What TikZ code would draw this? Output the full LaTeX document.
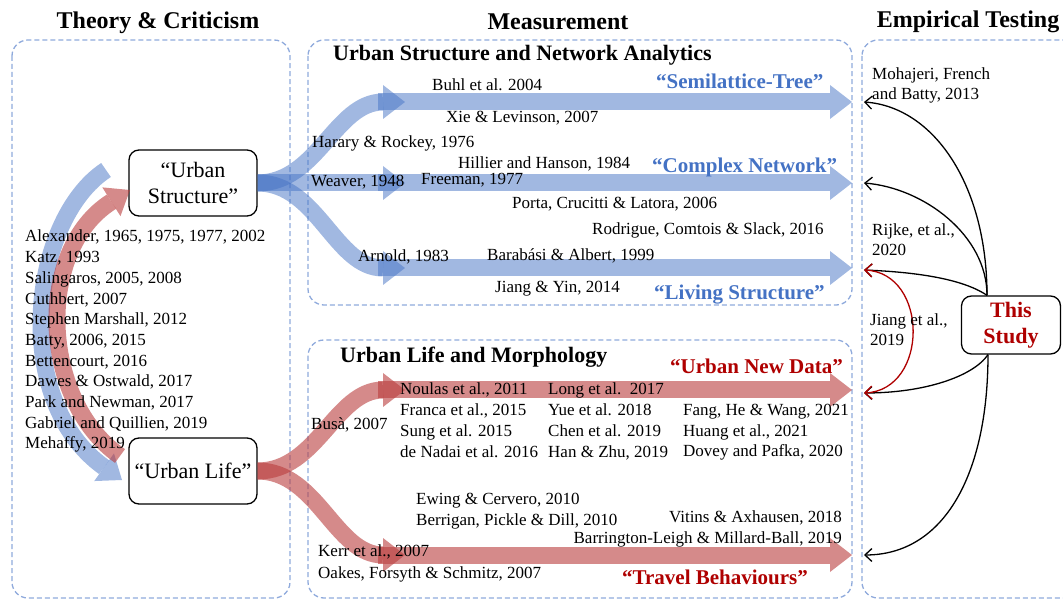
\documentclass[tikz,border=0pt]{standalone}
\usepackage{fontspec}
\setmainfont{Liberation Serif}
\usepackage{tikz}
\usetikzlibrary{positioning, arrows.meta}
\definecolor{panelblue}{RGB}{143,170,220}
\definecolor{flowblue}{RGB}{68,114,196}
\definecolor{flowred}{RGB}{185,60,60}
\definecolor{tagblue}{RGB}{68,114,196}
\definecolor{tagred}{RGB}{175,0,0}
\tikzset{
panel/.style={draw=panelblue, dash pattern=on 5pt off 3pt, line width=1.3pt, rounded corners=16pt}, % dashed frame round each part
concept/.style={draw, line width=1.3pt, rounded corners=10pt, fill=white, minimum width=128pt, minimum height=66pt, align=center, font=\fontsize{22}{26}\selectfont}, % the boxed ideas
heading/.style={font=\fontsize{24}{28}\selectfont\bfseries}, % column titles
subheading/.style={font=\fontsize{22}{26}\selectfont\bfseries, anchor=base west, inner sep=0pt}, % titles inside the frames
keyword/.style={font=\fontsize{21}{25}\selectfont\bfseries, anchor=base west, inner sep=0pt}, % quoted themes
citation/.style={font=\fontsize{17}{20.5}\selectfont, anchor=base west, inner sep=0pt}, % one reference
citations/.style={font=\fontsize{17}{20.7}\selectfont, align=left, anchor=north west, inner sep=0pt}, % stacked references
blueflow/.style={draw=flowblue, opacity=0.5, line width=17pt, -{Triangle[length=22pt, width=34pt, line width=0pt]}}, % broad blue arrow
redflow/.style={draw=flowred, opacity=0.6, line width=17pt, -{Triangle[length=22pt, width=34pt, line width=0pt]}}, % broad red arrow
link/.style={line width=1.3pt, -{Straight Barb[length=7pt, width=13pt]}}, % thin arrows of the study
}

\begin{document}
\begin{tikzpicture}[x=1pt, y=-1pt]
    \useasboundingbox (0,0) rectangle (1063,601);

    % frames and column titles
    \draw[panel] (12,40) rectangle (290,598);
    \draw[panel] (308,40) rectangle (852,305);
    \draw[panel] (308,340) rectangle (852,598);
    \draw[panel] (862,40) rectangle (1085,598);
    \node[heading] (theory) at (158,23) {Theory \& Criticism};
    \node[heading] (measure) at (558,22) {Measurement};
    \node[heading] (testing) at (968,22) {Empirical Testing};

    % the boxed ideas
    \node[concept] (ustruct) at (193,183) {“Urban\\Structure”};
    \node[concept] (ulife) at (193,471) {“Urban Life”};
    \node[concept, minimum width=99pt, minimum height=58pt, font=\fontsize{22}{26}\selectfont\bfseries, text=tagred] (study) at (1011,325) {This\\Study};

    % free ends of the arrows
    \coordinate (bluestart) at (106,170);
    \coordinate (blueend) at (122,480);
    \coordinate (redstart) at (120,456);
    \coordinate (redend) at (130,190);
    \coordinate (treehead) at (405,102);
    \coordinate (nethead) at (405,183);
    \coordinate (livinghead) at (405,268);
    \coordinate (datahead) at (405,390);
    \coordinate (travelhead) at (405,555);
    \coordinate (tree0) at (378,102);
    \coordinate (tree1) at (852,102);
    \coordinate (net0) at (378,183);
    \coordinate (net1) at (852,183);
    \coordinate (living0) at (378,268);
    \coordinate (living1) at (852,268);
    \coordinate (data0) at (378,390);
    \coordinate (data1) at (852,390);
    \coordinate (travel0) at (378,555);
    \coordinate (travel1) at (852,555);
    \coordinate (treein) at (864,102);
    \coordinate (netin) at (864,183);
    \coordinate (livingin) at (864,270);
    \coordinate (datain) at (864,393);
    \coordinate (travelin) at (864,555);
    \coordinate (studytop) at ([xshift=-24pt]study.north);
    \coordinate (studybot) at ([xshift=-23pt]study.south);

    % structure and life feed each other
    \draw[blueflow] (bluestart) .. controls (30,220) and (10,400) .. (blueend);
    \draw[redflow] (redstart) .. controls (40,400) and (35,250) .. (redend);

    % measurement branches
    \draw[blueflow] (ustruct.east) .. controls +(60,0) and +(-70,0) .. (treehead);
    \draw[blueflow] (ustruct.east) -- (nethead);
    \draw[blueflow] (ustruct.east) .. controls +(60,0) and +(-70,0) .. (livinghead);
    \draw[blueflow] (tree0) -- (tree1);
    \draw[blueflow] (net0) -- (net1);
    \draw[blueflow] (living0) -- (living1);
    \draw[redflow] (ulife.east) .. controls +(60,0) and +(-70,0) .. (datahead);
    \draw[redflow] (ulife.east) .. controls +(60,0) and +(-70,0) .. (travelhead);
    \draw[redflow] (data0) -- (data1);
    \draw[redflow] (travel0) -- (travel1);

    % this study tests each theme
    \draw[link] (studytop) .. controls +(0,-110) and +(70,5) .. (treein);
    \draw[link] (studytop) .. controls +(0,-60) and +(60,5) .. (netin);
    \draw[link] (studytop) .. controls +(-25,-17) and +(50,2) .. (livingin);
    \draw[link] (studybot) .. controls +(-15,22) and +(60,0) .. (datain);
    \draw[link] (studybot) .. controls +(0,120) and +(80,0) .. (travelin);
    \draw[line width=1.3pt, draw=tagred, {Straight Barb[length=7pt, width=13pt]}-{Straight Barb[length=7pt, width=13pt]}] (livingin) .. controls +(65,3) and +(65,-3) .. (datain);

    % theory and criticism
    \node[citations] (classics) at (25,230) {Alexander, 1965, 1975, 1977, 2002\\Katz, 1993\\Salingaros, 2005, 2008\\Cuthbert, 2007\\Stephen Marshall, 2012\\Batty, 2006, 2015\\Bettencourt, 2016\\Dawes \& Ostwald, 2017\\Park and Newman, 2017\\Gabriel and Quillien, 2019\\Mehaffy, 2019};

    % urban structure and network analytics
    \node[subheading] (structtitle) at (333,61) {Urban Structure and Network Analytics};
    \node[keyword, text=tagblue] (semilattice) at (656,89) {“Semilattice-Tree”};
    \node[keyword, text=tagblue] (complexnet) at (652,173) {“Complex Network”};
    \node[keyword, text=tagblue] (living) at (654,300) {“Living Structure”};
    \node[citation] (buhl) at (432,91) {Buhl et al. 2004};
    \node[citation] (xie) at (446,123) {Xie \& Levinson, 2007};
    \node[citation] (harary) at (312,148) {Harary \& Rockey, 1976};
    \node[citation] (hillier) at (458,169) {Hillier and Hanson, 1984};
    \node[citation] (weaver) at (311,187) {Weaver, 1948};
    \node[citation] (freeman) at (421,185) {Freeman, 1977};
    \node[citation] (porta) at (512,209) {Porta, Crucitti \& Latora, 2006};
    \node[citation] (rodrigue) at (592,235) {Rodrigue, Comtois \& Slack, 2016};
    \node[citation] (arnold) at (358,262) {Arnold, 1983};
    \node[citation] (barabasi) at (487,261) {Barabási \& Albert, 1999};
    \node[citation] (jiangyin) at (495,293) {Jiang \& Yin, 2014};

    % urban life and morphology
    \node[subheading] (lifetitle) at (340,363) {Urban Life and Morphology};
    \node[keyword, text=tagred] (newdata) at (670,374) {“Urban New Data”};
    \node[keyword, text=tagred] (travel) at (622,584) {“Travel Behaviours”};
    \node[citations] (datacol1) at (400,383) {Noulas et al., 2011\\Franca et al., 2015\\Sung et al. 2015\\de Nadai et al. 2016};
    \node[citations] (datacol2) at (548,383) {Long et al.\ \ 2017\\Yue et al. 2018\\Chen et al. 2019\\Han \& Zhu, 2019};
    \node[citations] (datacol3) at (683,404) {Fang, He \& Wang, 2021\\Huang et al., 2021\\Dovey and Pafka, 2020};
    \node[citation] (busa) at (311,429) {Busà, 2007};
    \node[citations] (ewing) at (416,493) {Ewing \& Cervero, 2010\\Berrigan, Pickle \& Dill, 2010};
    \node[citations, align=right, anchor=north east] (vitins) at (842,511) {Vitins \& Axhausen, 2018\\Barrington-Leigh \& Millard-Ball, 2019};
    \node[citations, font=\fontsize{17}{21.5}\selectfont] (kerr) at (318,545) {Kerr et al., 2007\\Oakes, Forsyth \& Schmitz, 2007};

    % empirical testing
    \node[citations, font=\fontsize{17}{20}\selectfont] (mohajeri) at (872,68) {Mohajeri, French\\and Batty, 2013};
    \node[citations, font=\fontsize{17}{20}\selectfont] (rijke) at (872,224) {Rijke, et al.,\\2020};
    \node[citations, font=\fontsize{17}{20}\selectfont] (jiang) at (870,314) {Jiang et al.,\\2019};
\end{tikzpicture}
\end{document}
